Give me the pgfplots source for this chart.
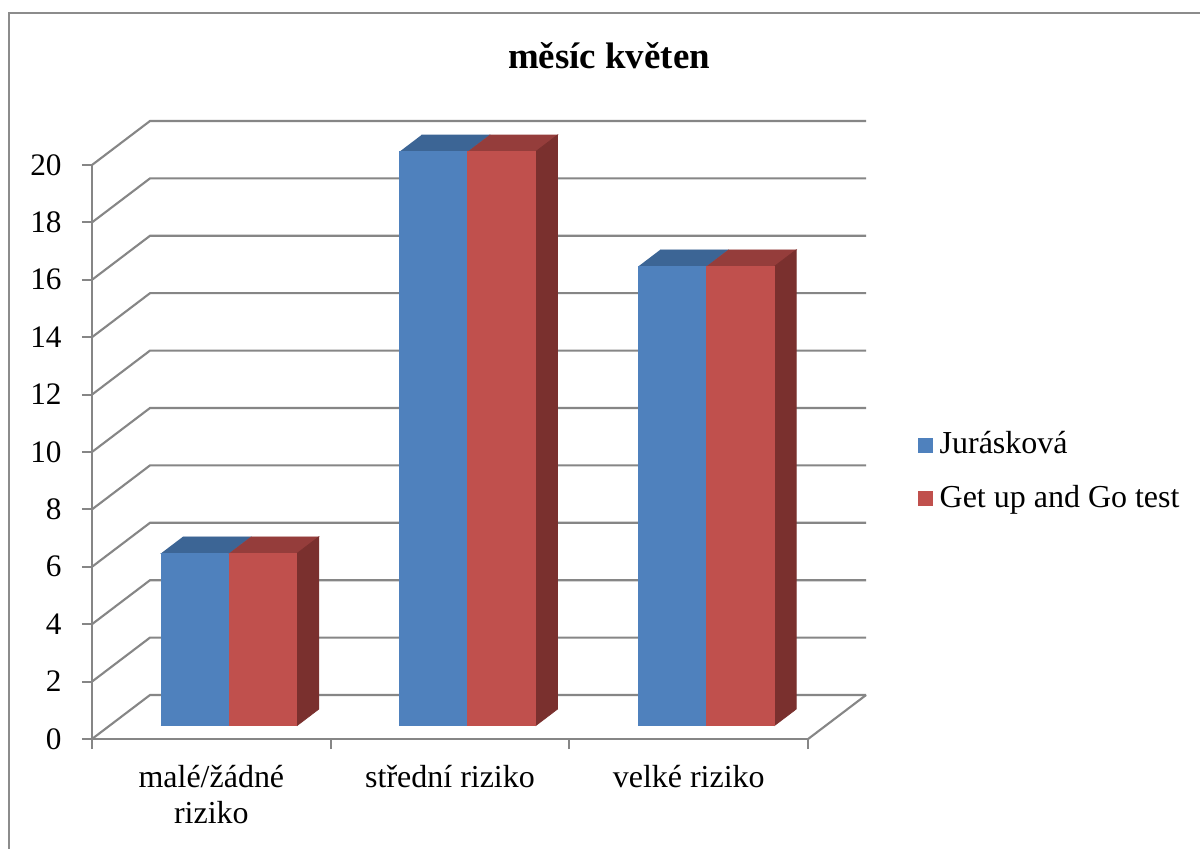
\documentclass[border=0pt]{standalone}
\usepackage{pgfplots}
\pgfplotsset{compat=1.18}
\usepackage{pgfplotstable}
\usepackage{fontspec}
\setmainfont{Liberation Serif}

\definecolor{jurfront}{HTML}{4F81BD}
\definecolor{jurtop}{HTML}{3C6595}
\definecolor{gugfront}{HTML}{C0504D}
\definecolor{gugtop}{HTML}{953D3B}
\definecolor{gugside}{HTML}{7A302E}
\definecolor{wallgrid}{HTML}{868686}
\definecolor{chartframe}{HTML}{8C8C8C}

% counts per risk category
\pgfplotstableread{
idx jur gug
0   6   6
1   20  20
2   16  16
}\riziko

% oblique depth geometry, in axis units
\def\Dx{0.243}\def\Dy{1.533}   % full depth of floor and side wall
\def\Sx{0.0729}\def\Sy{0.460}  % offset of the bar fronts
\def\Bx{0.0923}\def\By{0.583}  % depth of a bar
\def\BW{0.285}                 % width of a bar

\newcommand\bodyfont{\fontsize{9.1}{10.3}\selectfont}

\begin{document}
\begin{tikzpicture}[x=1cm,y=1cm]
\useasboundingbox (0,0) rectangle (12,8.48);
\fill[white] (0,0) rectangle (12,8.48);
\draw[chartframe, line width=0.025cm] (0.09,-0.1) -- (0.09,8.35) -- (12.1,8.35);
\node[font=\fontsize{10.5}{12.6}\selectfont\bfseries, anchor=base] at (6.09,7.79) {měsíc květen};

\begin{axis}[
  at={(0.92cm,1.09cm)}, anchor=south west,
  x=2.387cm, y=0.287cm,
  xmin=0, xmax=3, ymin=0, ymax=20,
  clip=false,
  axis x line*=bottom, axis y line*=left,
  axis line style={wallgrid, line width=0.6pt, -},
  tick align=outside,
  major tick length=0.1cm,
  tick style={wallgrid, line width=0.6pt},
  ytick={0,2,...,20},
  xtick={0,1,2,3}, xticklabels={,,,},
  extra x ticks={0.5,1.5,2.5},
  extra x tick labels={{malé/žádné\\riziko},{střední riziko},{velké riziko}},
  extra x tick style={major tick length=0pt},
  xticklabel style={align=center, font=\bodyfont, anchor=north, yshift=-0.14cm},
  yticklabel style={font=\fontsize{8.9}{10}\selectfont, xshift=-0.08cm},
  /pgf/number format/assume math mode=true,
  legend style={at={(1.152,0.465)}, anchor=west, draw=none, fill=none,
    font=\bodyfont, row sep=0.12cm, inner sep=0pt},
  legend cell align=left,
  legend image code/.code={\fill[#1] (0cm,-0.075cm) rectangle (0.15cm,0.075cm);},
]
% floor, side wall and back wall grid
\pgfplotsinvokeforeach{0,2,...,20}{
  \draw[wallgrid, line width=0.6pt] (axis cs:0,#1) -- (axis cs:\Dx,#1+\Dy) -- (axis cs:3+\Dx,#1+\Dy);
}
\draw[wallgrid, line width=0.6pt] (axis cs:3,0) -- (axis cs:3+\Dx,\Dy);

% bars: top, side and front faces
\pgfplotsinvokeforeach{0,1,2}{%
  \pgfplotstablegetelem{#1}{jur}\of\riziko
  \pgfmathsetmacro\vj{\pgfplotsretval+\Sy}%
  \pgfplotstablegetelem{#1}{gug}\of\riziko
  \pgfmathsetmacro\vg{\pgfplotsretval+\Sy}%
  \pgfmathsetmacro\xa{#1+0.5-\BW+\Sx}%
  \pgfmathsetmacro\xb{#1+0.5+\Sx}%
  \pgfmathsetmacro\xc{#1+0.5+\BW+\Sx}%
  \pgfmathsetmacro\xab{\xa+\Bx}%
  \pgfmathsetmacro\xbb{\xb+\Bx}%
  \pgfmathsetmacro\xcb{\xc+\Bx}%
  \pgfmathsetmacro\vjb{\vj+\By}%
  \pgfmathsetmacro\vgb{\vg+\By}%
  \pgfmathsetmacro\yb{\Sy+\By}%
  \edef\faces{%
    \noexpand\addplot[fill=jurtop, draw=jurtop, line width=0.2pt, forget plot]
      coordinates {(\xa,\vj) (\xb,\vj) (\xbb,\vjb) (\xab,\vjb)};
    \noexpand\addplot[fill=jurfront, draw=jurfront, line width=0.2pt, forget plot]
      coordinates {(\xa,\Sy) (\xb,\Sy) (\xb,\vj) (\xa,\vj)};
    \noexpand\addplot[fill=gugtop, draw=gugtop, line width=0.2pt, forget plot]
      coordinates {(\xb,\vg) (\xc,\vg) (\xcb,\vgb) (\xbb,\vgb)};
    \noexpand\addplot[fill=gugside, draw=gugside, line width=0.2pt, forget plot]
      coordinates {(\xc,\Sy) (\xcb,\yb) (\xcb,\vgb) (\xc,\vg)};
    \noexpand\addplot[fill=gugfront, draw=gugfront, line width=0.2pt, forget plot]
      coordinates {(\xb,\Sy) (\xc,\Sy) (\xc,\vg) (\xb,\vg)};
  }%
  \faces
}

\addlegendimage{fill=jurfront, draw=none}
\addlegendentry{Jurásková}
\addlegendimage{fill=gugfront, draw=none}
\addlegendentry{Get up and Go test}
\end{axis}
\end{tikzpicture}
\end{document}
